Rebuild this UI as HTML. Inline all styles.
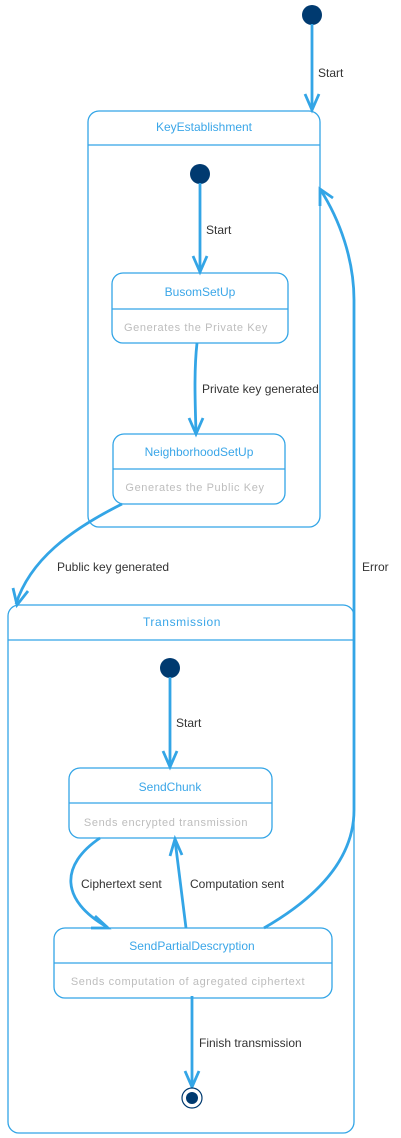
<!DOCTYPE html>
<html><head><meta charset="utf-8"><style>
html,body{margin:0;padding:0;background:#fff;}
svg{display:block;}
text{font-family:"Liberation Sans",sans-serif;}
.t{fill:#3aa6e8;font-size:12px;text-anchor:middle;}
.d{fill:#bdbdbd;font-size:11px;text-anchor:middle;letter-spacing:0.6px;}
.l{fill:#333;font-size:12px;}
.b{fill:none;stroke:#33a5e6;stroke-width:1.3;}
.a{fill:none;stroke:#33a5e6;stroke-width:2.8;}
.h{fill:none;stroke:#33a5e6;stroke-width:2.8;stroke-linejoin:miter;}
</style></head><body>
<svg width="401" height="1138" viewBox="0 0 401 1138" xmlns="http://www.w3.org/2000/svg">
<!-- KeyEstablishment -->
<rect class="b" x="88" y="111" width="232" height="416" rx="11"/>
<line class="b" x1="88" y1="145" x2="320" y2="145"/>
<text class="t" x="204" y="131">KeyEstablishment</text>
<!-- Transmission -->
<rect class="b" x="8" y="605" width="346" height="528" rx="11"/>
<line class="b" x1="8" y1="640" x2="354" y2="640"/>
<text class="t" x="182" y="626" style="letter-spacing:0.6px">Transmission</text>

<!-- top init -->
<circle cx="312" cy="15" r="10" fill="#003a70"/>
<line class="a" x1="312" y1="24" x2="312" y2="110"/>
<polyline class="h" points="305,94 312,110 319,94"/>
<text class="l" x="318" y="77">Start</text>

<!-- inner init KE -->
<circle cx="200" cy="174" r="10" fill="#003a70"/>
<line class="a" x1="200" y1="183" x2="200" y2="272"/>
<polyline class="h" points="193,256 200,272 207,256"/>
<text class="l" x="206" y="234">Start</text>

<!-- BusomSetUp -->
<rect class="b" x="112" y="273" width="176" height="70" rx="11"/>
<line class="b" x1="112" y1="309" x2="288" y2="309"/>
<text class="t" x="200" y="296">BusomSetUp</text>
<text class="d" x="196" y="331">Generates the Private Key</text>

<path class="a" d="M197,343 C194,370 195,400 196,433"/>
<polyline class="h" points="189,418 196,434 203,418"/>
<text class="l" x="202" y="393">Private key generated</text>

<!-- NeighborhoodSetUp -->
<rect class="b" x="113" y="434" width="172" height="70" rx="11"/>
<line class="b" x1="113" y1="469" x2="285" y2="469"/>
<text class="t" x="199" y="456">NeighborhoodSetUp</text>
<text class="d" x="195" y="491">Generates the Public Key</text>

<path class="a" d="M122,504 C70,530 30,560 16,604"/>
<polyline class="h" points="13,588 17,605 28,591"/>
<text class="l" x="57" y="571">Public key generated</text>

<!-- Error -->
<path class="a" d="M264,928 C330,890 354,850 354,810 L354,300 C354,260 340,220 320,189"/>
<polyline class="h" points="320,206 320,189 333,198"/>
<text class="l" x="362" y="571">Error</text>

<!-- inner init Transmission -->
<circle cx="170" cy="668" r="10" fill="#003a70"/>
<line class="a" x1="170" y1="677" x2="170" y2="767"/>
<polyline class="h" points="163,751 170,767 177,751"/>
<text class="l" x="176" y="727">Start</text>

<!-- SendChunk -->
<rect class="b" x="69" y="768" width="203" height="70" rx="11"/>
<line class="b" x1="69" y1="803" x2="272" y2="803"/>
<text class="t" x="170" y="791">SendChunk</text>
<text class="d" x="166" y="826">Sends encrypted transmission</text>

<path class="a" d="M100,838 C60,865 60,900 107,927"/>
<polyline class="h" points="95,916 108,928 91,928"/>
<text class="l" x="81" y="888">Ciphertext sent</text>

<path class="a" d="M186,928 L175,840"/>
<polyline class="h" points="170,856 175,839 182,855"/>
<text class="l" x="190" y="888">Computation sent</text>

<!-- SendPartialDescryption -->
<rect class="b" x="54" y="928" width="278" height="70" rx="11"/>
<line class="b" x1="54" y1="963" x2="332" y2="963"/>
<text class="t" x="192" y="950">SendPartialDescryption</text>
<text class="d" x="188" y="985">Sends computation of agregated ciphertext</text>

<line class="a" x1="192" y1="996" x2="192" y2="1087"/>
<polyline class="h" points="185,1071 192,1087 199,1071"/>
<text class="l" x="199" y="1047">Finish transmission</text>

<circle cx="192" cy="1098" r="10" fill="#fff" stroke="#003a70" stroke-width="1.2"/>
<circle cx="192" cy="1098" r="6" fill="#003a70"/>
</svg>
</body></html>
